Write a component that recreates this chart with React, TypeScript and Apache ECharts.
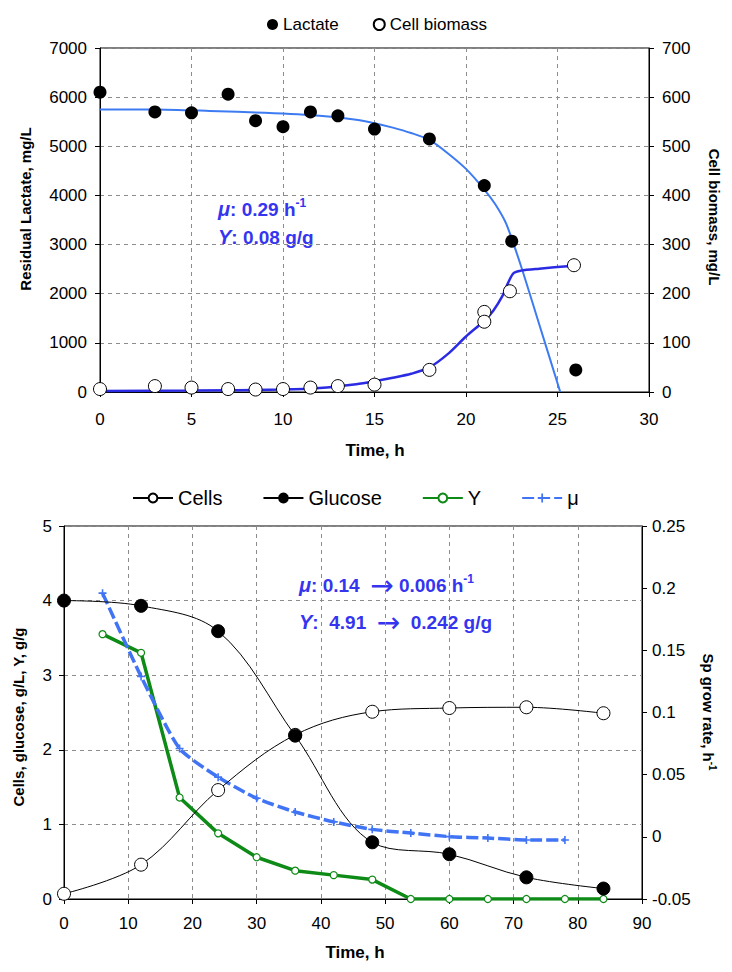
import React, { useEffect, useRef } from 'react';
import * as echarts from 'echarts';

const FONT = '"Liberation Sans", Arial, sans-serif';

// ---- Top chart data ----
const topTime = [0, 3, 5, 7, 8.5, 10, 11.5, 13, 15, 18, 21, 22.5, 26];
const lactate = [6100, 5700, 5680, 6060, 5520, 5400, 5700, 5620, 5350, 5150, 4200, 3070, 450];
const biomassTime = [0, 3, 5, 7, 8.5, 10, 11.5, 13, 15, 18, 21, 21, 22.4, 25.9];
const biomass = [6, 12, 9, 6, 5, 6, 9, 12, 15, 45, 163, 143, 205, 258];
const lactFitX = [0, 3, 6, 9, 12, 14, 15, 16, 17, 18, 19, 20, 21, 21.6, 22.2, 23, 24, 25.15];
const lactFitY = [5750, 5750, 5720, 5680, 5620, 5540, 5470, 5380, 5270, 5130, 4860, 4540, 4120, 3820, 3420, 2570, 1380, 0];
const cellFitX = [0, 5, 10, 12, 14, 15, 16, 17, 18, 19, 20, 21, 21.5, 22, 22.3, 22.6, 23, 24, 25.9];
const cellFitY = [2, 3, 5, 8, 16, 22, 29, 37, 50, 77, 113, 145, 166, 196, 222, 242, 247, 251, 257];

// ---- Bottom chart data ----
const hours = [0, 12, 24, 36, 48, 60, 72, 84];
const cells = [0.07, 0.46, 1.46, 2.2, 2.51, 2.56, 2.57, 2.49];
const glucose = [4.0, 3.93, 3.59, 2.19, 0.76, 0.6, 0.29, 0.14];
const yTime = [6, 12, 18, 24, 30, 36, 42, 48, 54, 60, 66, 72, 78, 84];
const yieldY = [3.55, 3.3, 1.36, 0.88, 0.56, 0.38, 0.32, 0.26, 0, 0, 0, 0, 0, 0];
const muTime = [6, 12, 18, 24, 30, 36, 42, 48, 54, 60, 66, 72, 78];
const mu = [0.196, 0.129, 0.071, 0.048, 0.031, 0.02, 0.012, 0.006, 0.003, 0.0002, -0.001, -0.0025, -0.0026];

const zip = (xs: number[], ys: number[]) => xs.map((x, i) => [x, ys[i]]);

const PLUS = 'path://M4,0H6V4H10V6H6V10H4V6H0V4H4Z';
const ANNO = '#3535F0';
const GREEN = '#0E8A16';
const MU_BLUE = '#4074F5';

const gridLine = { show: true, lineStyle: { color: '#8c8c8c', type: [4, 4] as any, width: 1 } };
const axisLine = { show: true, onZero: false, lineStyle: { color: '#000', width: 1 } };
const axisTick = { show: true, length: 5, lineStyle: { color: '#000' } };
const plain = (v: number) => String(Math.round(v * 100) / 100);
const label = (margin: number) => ({ fontSize: 17, color: '#000', fontFamily: FONT, margin, formatter: plain });

const annoRich = {
  i: { fontSize: 20, fontWeight: 'bold', fontStyle: 'italic', fill: ANNO, color: ANNO, fontFamily: FONT, lineHeight: 24 },
  b: { fontSize: 19, fontWeight: 'bold', fill: ANNO, color: ANNO, fontFamily: FONT, lineHeight: 24 },
  r: { fontSize: 28, fontWeight: 'normal', fill: ANNO, color: ANNO, fontFamily: '"DejaVu Sans", sans-serif', lineHeight: 24 },
  s: { fontSize: 12, fontWeight: 'bold', fill: ANNO, color: ANNO, fontFamily: FONT, lineHeight: 13, verticalAlign: 'top' },
};

const txt = (x: number, y: number, text: string, extra: any = {}, rotation = 0, rich?: any) => ({
  type: 'text',
  x,
  y,
  rotation,
  silent: true,
  style: {
    text,
    fill: '#000',
    fontFamily: FONT,
    fontSize: 15,
    fontWeight: 'bold',
    textAlign: 'center',
    align: 'center',
    textVerticalAlign: 'middle',
    verticalAlign: 'middle',
    ...(rich ? { rich } : {}),
    ...extra,
  },
});

const option: any = {
  animation: false,
  backgroundColor: '#fff',
  textStyle: { fontFamily: FONT },
  grid: [
    { left: 100, right: 83, top: 48, height: 344, show: true, borderColor: '#000', borderWidth: 1 },
    { left: 64, right: 90, top: 526, height: 373, show: true, borderColor: '#000', borderWidth: 1 },
  ],
  legend: [
    {
      data: ['Lactate', 'Cell biomass'],
      left: 262,
      top: 11,
      itemWidth: 11,
      itemHeight: 11,
      itemGap: 34,
      textStyle: { fontSize: 17, color: '#000', fontFamily: FONT },
    },
    {
      data: ['Cells', 'Glucose', 'Y', 'μ'],
      left: 127,
      top: 483,
      itemWidth: 40,
      itemHeight: 11,
      itemGap: 40,
      textStyle: { fontSize: 20, color: '#000', fontFamily: FONT },
    },
  ],
  xAxis: [
    {
      gridIndex: 0, type: 'value', min: 0, max: 30, interval: 5,
      axisLine, axisTick, axisLabel: label(19), splitLine: gridLine,
    },
    {
      gridIndex: 1, type: 'value', min: 0, max: 90, interval: 10,
      axisLine, axisTick, axisLabel: label(16), splitLine: gridLine,
    },
  ],
  yAxis: [
    {
      gridIndex: 0, type: 'value', position: 'left', min: 0, max: 7000, interval: 1000,
      axisLine, axisTick, axisLabel: label(13), splitLine: gridLine,
    },
    {
      gridIndex: 0, type: 'value', position: 'right', min: 0, max: 700, interval: 100,
      axisLine, axisTick, axisLabel: label(13), splitLine: { show: false },
    },
    {
      gridIndex: 1, type: 'value', position: 'left', min: 0, max: 5, interval: 1,
      axisLine, axisTick, axisLabel: label(12), splitLine: gridLine,
    },
    {
      gridIndex: 1, type: 'value', position: 'right', min: -0.05, max: 0.25, interval: 0.05,
      axisLine, axisTick, axisLabel: label(10), splitLine: { show: false },
    },
  ],
  series: [
    {
      name: 'lactFit', type: 'line', xAxisIndex: 0, yAxisIndex: 0,
      data: zip(lactFitX, lactFitY), symbol: 'none', smooth: 0.25,
      lineStyle: { color: '#3D7BF2', width: 2 }, itemStyle: { color: '#3D7BF2' }, z: 1, silent: true,
    },
    {
      name: 'cellFit', type: 'line', xAxisIndex: 0, yAxisIndex: 1,
      data: zip(cellFitX, cellFitY), symbol: 'none', smooth: 0.3,
      lineStyle: { color: '#2B2BE3', width: 2.5 }, itemStyle: { color: '#2B2BE3' }, z: 1, silent: true,
    },
    {
      name: 'Lactate', type: 'scatter', xAxisIndex: 0, yAxisIndex: 0,
      data: zip(topTime, lactate), symbol: 'circle', symbolSize: 13,
      itemStyle: { color: '#000', opacity: 1 }, z: 3,
    },
    {
      name: 'Cell biomass', type: 'scatter', xAxisIndex: 0, yAxisIndex: 1,
      data: zip(biomassTime, biomass), symbol: 'circle', symbolSize: 13,
      itemStyle: { color: '#fff', borderColor: '#000', borderWidth: 1, opacity: 1 }, z: 3,
    },
    {
      name: 'Cells', type: 'line', xAxisIndex: 1, yAxisIndex: 2,
      data: zip(hours, cells), smooth: 0.35, symbol: 'circle', symbolSize: 13, showSymbol: true,
      itemStyle: { color: '#fff', borderColor: '#000', borderWidth: 1 },
      lineStyle: { color: '#000', width: 1 }, z: 3,
    },
    {
      name: 'Glucose', type: 'line', xAxisIndex: 1, yAxisIndex: 2,
      data: zip(hours, glucose), smooth: 0.35, symbol: 'circle', symbolSize: 13, showSymbol: true,
      itemStyle: { color: '#000', borderColor: '#000', borderWidth: 1 },
      lineStyle: { color: '#000', width: 1 }, z: 4,
    },
    {
      name: 'Y', type: 'line', xAxisIndex: 1, yAxisIndex: 2,
      data: zip(yTime, yieldY), symbol: 'circle', symbolSize: 7, showSymbol: true,
      itemStyle: { color: '#fff', borderColor: GREEN, borderWidth: 1.2 },
      lineStyle: { color: GREEN, width: 3.5 }, z: 2,
    },
    {
      name: 'μ', type: 'line', xAxisIndex: 1, yAxisIndex: 3,
      data: zip(muTime, mu), smooth: 0.2, symbol: PLUS, symbolSize: 8, showSymbol: true,
      itemStyle: { color: MU_BLUE },
      lineStyle: { color: MU_BLUE, width: 3.5, type: [12, 4] }, z: 2,
    },
  ],
  graphic: [
    txt(25, 209, 'Residual Lactate, mg/L', {}, Math.PI / 2),
    txt(714, 217, 'Cell biomass, mg/L', {}, -Math.PI / 2),
    txt(375, 450, 'Time, h', { fontSize: 17 }),
    txt(18, 717, 'Cells, glucose, g/L, Y, g/g', { fontSize: 15 }, Math.PI / 2),
    txt(708, 712, '{a|Sp grow rate, h}{s|-1}', {}, -Math.PI / 2, {
      a: { fontSize: 15, fontWeight: 'bold', fontFamily: FONT, fill: '#000', lineHeight: 18 },
      s: { fontSize: 10, fontWeight: 'bold', fontFamily: FONT, fill: '#000', lineHeight: 10, verticalAlign: 'top' },
    }),
    txt(355, 952, 'Time, h', { fontSize: 17 }),
    txt(218, 209, '{i|μ}{b|: 0.29 h}{s|-1}', { textAlign: 'left', align: 'left' }, 0, annoRich),
    txt(218, 237, '{i|Y}{b|: 0.08 g/g}', { textAlign: 'left', align: 'left' }, 0, annoRich),
    txt(299, 585, '{i|μ}{b|: 0.14  }{r|→}{b| 0.006 h}{s|-1}', { textAlign: 'left', align: 'left' }, 0, annoRich),
    txt(299, 622, '{i|Y}{b|:  4.91  }{r|→}{b|  0.242 g/g}', { textAlign: 'left', align: 'left' }, 0, annoRich),
  ],
};

export default function App() {
  const ref = useRef<HTMLDivElement>(null);
  useEffect(() => {
    const chart = echarts.init(ref.current!, null, { renderer: 'svg' });
    chart.setOption(option);
    return () => chart.dispose();
  }, []);
  return (
    <div
      ref={ref}
      style={{ position: 'fixed', left: 0, top: 0, width: 732, height: 972, background: '#fff' }}
    />
  );
}
